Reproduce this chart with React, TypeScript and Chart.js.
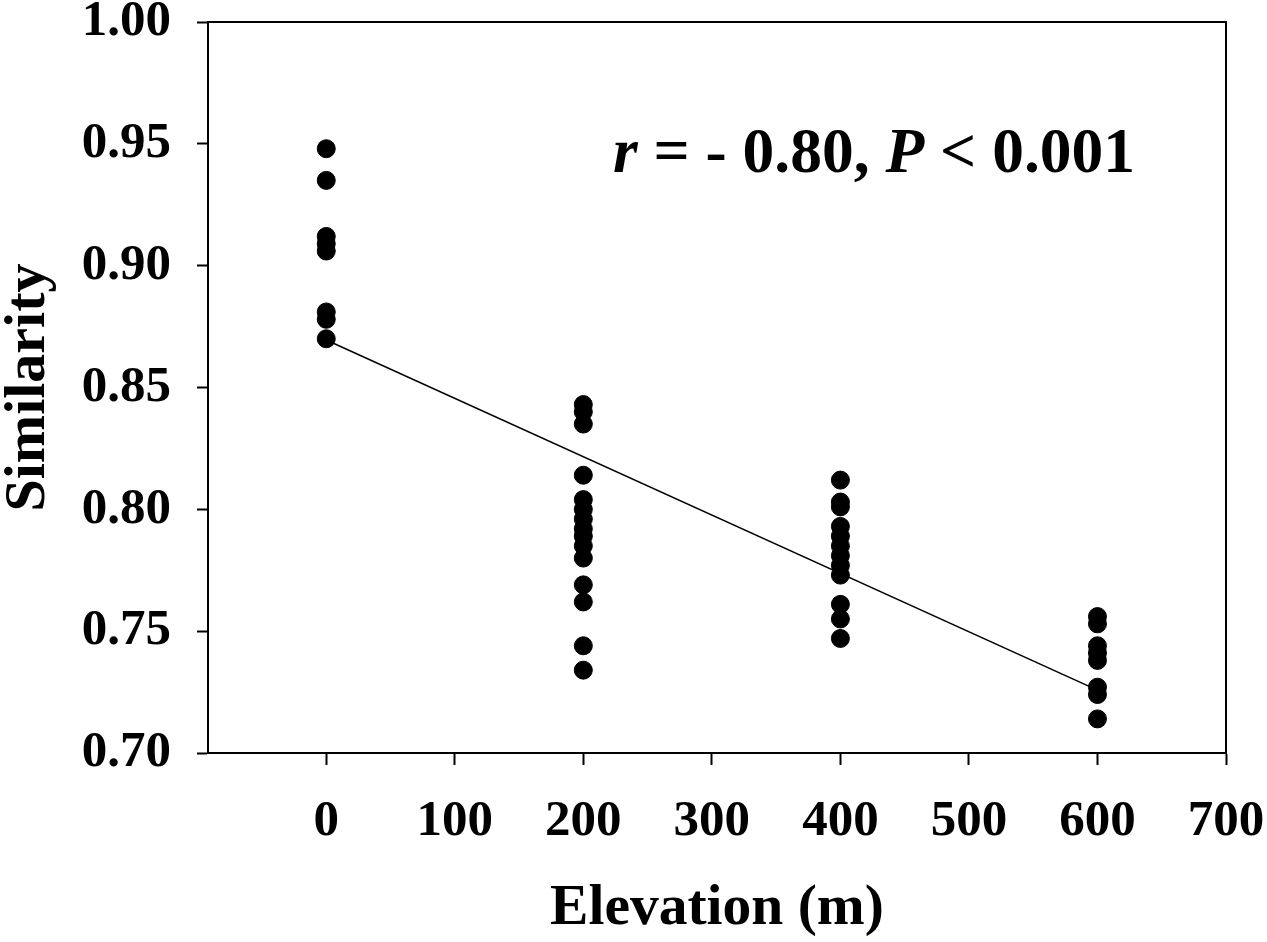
import { useEffect, useRef } from "react";
import { Chart, registerables } from "chart.js";

Chart.register(...registerables);

// elevation groups (m) and similarity values
const elevations = [0, 200, 400, 600];
const sim0 = [0.948, 0.935, 0.912, 0.909, 0.906, 0.881, 0.878, 0.870];
const sim200 = [0.843, 0.840, 0.835, 0.814, 0.804, 0.800, 0.796, 0.792, 0.789, 0.785, 0.780, 0.769, 0.762, 0.744, 0.734];
const sim400 = [0.812, 0.803, 0.801, 0.793, 0.789, 0.785, 0.781, 0.777, 0.773, 0.761, 0.755, 0.747];
const sim600 = [0.756, 0.753, 0.744, 0.741, 0.738, 0.727, 0.724, 0.714];

// regression line end points
const fitX = [0, 600];
const fitY = [0.8695, 0.7258];

const xTicks = [0, 100, 200, 300, 400, 500, 600, 700];
const yTicks = [0.7, 0.75, 0.8, 0.85, 0.9, 0.95, 1.0];

const FONT = "'Liberation Serif', 'Times New Roman', serif";

const frame = {
  id: "frame",
  afterDatasetsDraw(chart: Chart) {
    const { ctx, chartArea: a } = chart;
    ctx.save();
    ctx.strokeStyle = "#000";
    ctx.lineWidth = 2;
    ctx.beginPath();
    ctx.moveTo(a.left, a.top);
    ctx.lineTo(a.right, a.top);
    ctx.lineTo(a.right, a.bottom);
    ctx.stroke();
    ctx.restore();
  },
};

const statText = {
  id: "statText",
  afterDraw(chart: Chart) {
    const { ctx } = chart;
    const x = chart.scales.x.getPixelForValue(223);
    const y = chart.scales.y.getPixelForValue(0.9384);
    const parts = [
      { t: "r", it: true },
      { t: " = - 0.80, ", it: false },
      { t: "P", it: true },
      { t: " < 0.001", it: false },
    ];
    ctx.save();
    ctx.fillStyle = "#000";
    ctx.textBaseline = "alphabetic";
    let cx = x;
    for (const p of parts) {
      ctx.font = (p.it ? "italic " : "") + "bold 63.5px " + FONT;
      ctx.fillText(p.t, cx, y);
      cx += ctx.measureText(p.t).width;
    }
    ctx.restore();
  },
};

export default function App() {
  const ref = useRef<HTMLCanvasElement>(null);

  useEffect(() => {
    if (!ref.current) return;
    const groups = [sim0, sim200, sim400, sim600];
    const points = groups.flatMap((g, i) => g.map((v) => ({ x: elevations[i], y: v })));
    const line = fitX.map((x, i) => ({ x, y: fitY[i] }));

    const chart = new Chart(ref.current, {
      type: "scatter",
      data: {
        datasets: [
          {
            data: line,
            showLine: true,
            borderColor: "#000",
            borderWidth: 1.5,
            pointRadius: 0,
          },
          {
            data: points,
            pointRadius: 9,
            backgroundColor: "#000",
            borderColor: "#000",
          },
        ],
      },
      options: {
        animation: false,
        responsive: true,
        maintainAspectRatio: false,
        layout: { padding: { top: 22, right: 41, left: 0, bottom: 0 } },
        plugins: { legend: { display: false }, tooltip: { enabled: false } },
        scales: {
          x: {
            type: "linear",
            min: -92,
            max: 700,
            afterBuildTicks: (s) => {
              s.ticks = xTicks.map((v) => ({ value: v }));
            },
            afterFit: (s) => {
              s.height = 189;
              s.paddingLeft = 0;
              s.paddingRight = 0;
            },
            grid: { drawOnChartArea: false, tickLength: 12, tickWidth: 2, color: "#000" },
            border: { display: true, color: "#000", width: 2 },
            ticks: {
              color: "#000",
              padding: 26,
              maxRotation: 0,
              autoSkip: false,
              font: { family: FONT, size: 51, weight: "bold" },
            },
            title: {
              display: true,
              text: "Elevation (m)",
              color: "#000",
              font: { family: FONT, size: 57.5, weight: "bold", lineHeight: 1 },
              padding: { top: 0, bottom: 4 },
            },
          },
          y: {
            min: 0.7,
            max: 1.0,
            afterBuildTicks: (s) => {
              s.ticks = yTicks.map((v) => ({ value: v }));
            },
            afterFit: (s) => {
              s.width = 208;
              s.paddingTop = 0;
              s.paddingBottom = 0;
            },
            grid: { drawOnChartArea: false, tickLength: 11, tickWidth: 2, color: "#000" },
            border: { display: true, color: "#000", width: 2 },
            ticks: {
              color: "#000",
              padding: 26,
              autoSkip: false,
              callback: (v) => Number(v).toFixed(2),
              font: { family: FONT, size: 51, weight: "bold" },
            },
            title: {
              display: true,
              text: "Similarity",
              color: "#000",
              font: { family: FONT, size: 58, weight: "bold", lineHeight: 1 },
              padding: { top: 0, bottom: 0 },
            },
          },
        },
      },
      plugins: [frame, statText],
    });

    return () => chart.destroy();
  }, []);

  return (
    <div style={{ position: "absolute", left: 0, top: 0, width: 1267, height: 942, background: "#fff" }}>
      <canvas ref={ref} role="img" aria-label="Similarity vs elevation scatter plot" />
    </div>
  );
}
